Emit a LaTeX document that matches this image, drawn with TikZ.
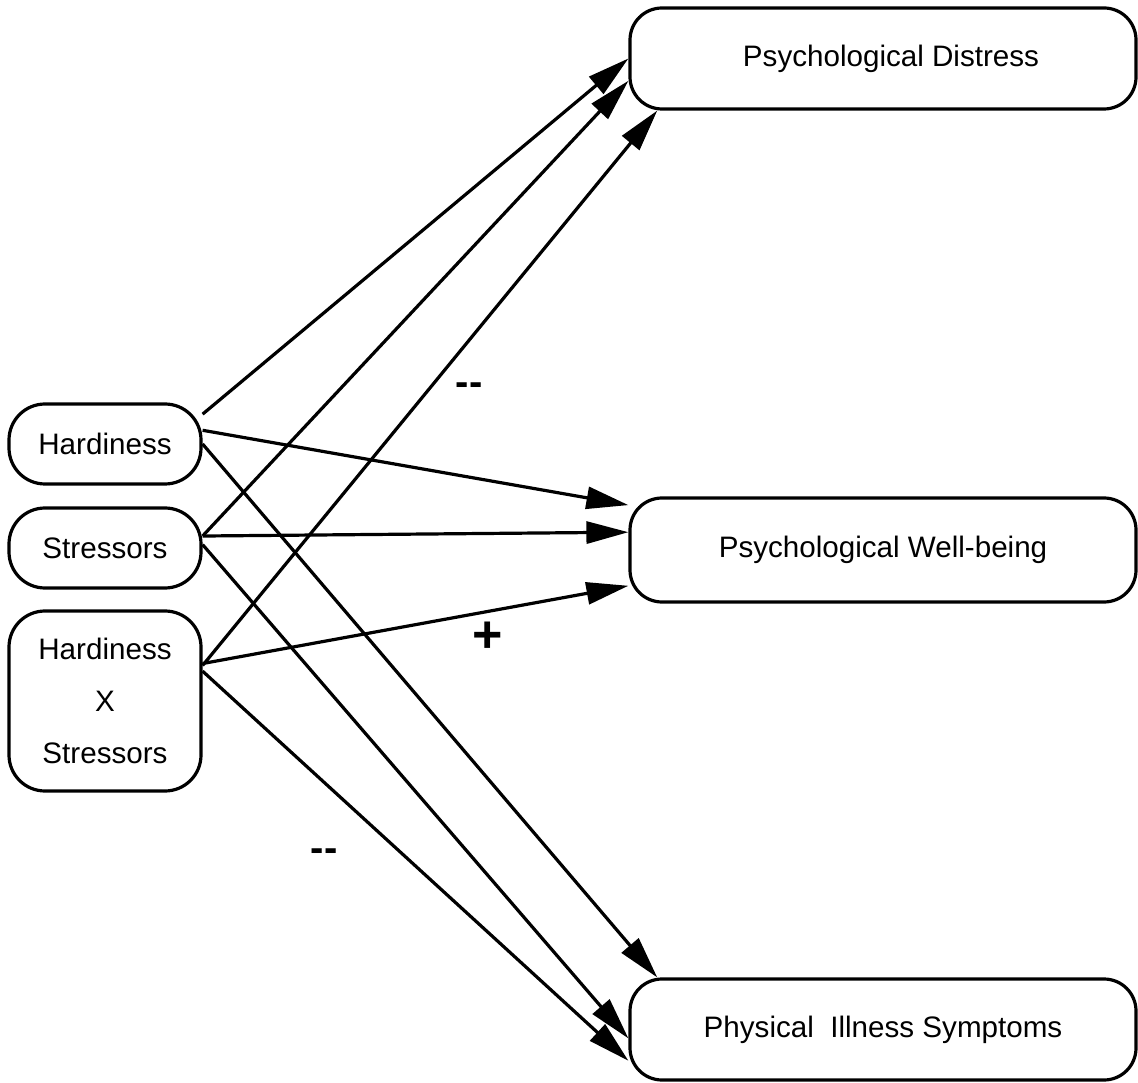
\documentclass[tikz,border=0pt]{standalone}
\usepackage{fontspec}
\setmainfont{Liberation Sans}
\usetikzlibrary{arrows.meta}

\begin{document}
\begin{tikzpicture}[x=0.5pt, y=0.5pt,
    outcome/.style={draw, line width=1.6pt, rounded corners=16pt, minimum width=253pt, minimum height=50.5pt, font=\fontsize{14.8}{17}\selectfont},
    factor/.style={draw, line width=1.6pt, rounded corners=18pt, minimum width=96pt, minimum height=40pt, align=center, font=\fontsize{14.8}{26}\selectfont},
    effect/.style={line width=1.6pt, -{Triangle[length=21pt, width=11pt]}},
    sign/.style={font=\fontsize{20}{24}\selectfont\bfseries}]
  \useasboundingbox (0,0) rectangle (1138,1082);
  \node[outcome] (distress) at (883,1023.5) {\hspace{8pt}Psychological Distress};
  \node[outcome, minimum height=52pt] (wellbeing) at (883,532) {Psychological Well-being};
  \node[outcome] (illness) at (883,52.5) {Physical\ \ Illness Symptoms};
  \node[factor] (hardy) at (105,638) {Hardiness};
  \node[factor] (stress) at (105,534) {Stressors};
  \node[factor, minimum height=90pt] (inter) at (105,381) {Hardiness\\X\\Stressors};
  \draw[effect] (hardy.17) -- (distress.west);
  \draw[effect] (hardy.8) -- (wellbeing.170);
  \draw[effect] (hardy.east) -- (illness.167);
  \draw[effect] (stress.7) -- (distress.185);
  \draw[effect] (stress.7) -- (wellbeing.176);
  \draw[effect] (stress.2) -- (illness.182);
  \draw[effect] (inter.20) -- (distress.193);
  \draw[effect] (inter.21) -- (wellbeing.188);
  \draw[effect] (inter.17) -- (illness.187);
  \node[sign] (minus1) at (469,693) {-{}-};
  \node[sign, font=\fontsize{26}{30}\selectfont\bfseries] (plus) at (488,445) {+};
  \node[sign] (minus2) at (324,227) {-{}-};
\end{tikzpicture}
\end{document}
